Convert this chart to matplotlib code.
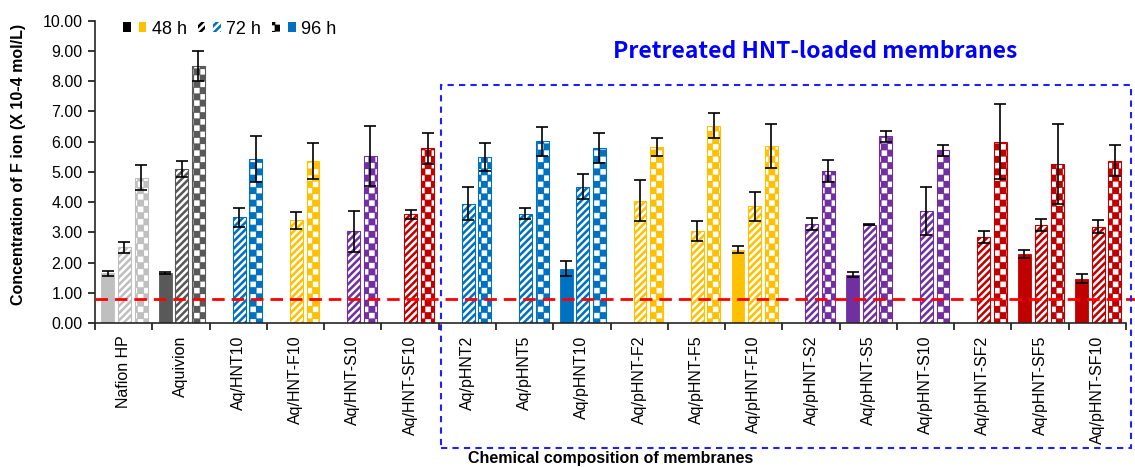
import numpy as np
import matplotlib
matplotlib.use('Agg')
import matplotlib.pyplot as plt
import matplotlib.patches as mpatches
from matplotlib import hatch as mhatch
from matplotlib.path import Path
from matplotlib.legend_handler import HandlerTuple

# fluoride release data (x 10^-4 mol/L)
membranes = ['Nafion HP', 'Aquivion', 'Aq/HNT10', 'Aq/HNT-F10', 'Aq/HNT-S10', 'Aq/HNT-SF10',
             'Aq/pHNT2', 'Aq/pHNT5', 'Aq/pHNT10', 'Aq/pHNT-F2', 'Aq/pHNT-F5', 'Aq/pHNT-F10',
             'Aq/pHNT-S2', 'Aq/pHNT-S5', 'Aq/pHNT-S10', 'Aq/pHNT-SF2', 'Aq/pHNT-SF5', 'Aq/pHNT-SF10']
nan = np.nan
f48 = [1.64, 1.65, nan, nan, nan, nan, nan, nan, 1.80, nan, nan, 2.43, nan, 1.60, nan, nan, 2.28, 1.46]
e48 = [0.09, 0.02, nan, nan, nan, nan, nan, nan, 0.25, nan, nan, 0.13, nan, 0.07, nan, nan, 0.14, 0.15]
f72 = [2.50, 5.10, 3.50, 3.40, 3.04, 3.59, 3.95, 3.62, 4.51, 4.05, 3.05, 3.86, 3.26, 3.25, 3.71, 2.84, 3.25, 3.19]
e72 = [0.17, 0.26, 0.31, 0.28, 0.68, 0.14, 0.54, 0.17, 0.41, 0.67, 0.33, 0.47, 0.20, 0.02, 0.80, 0.19, 0.20, 0.23]
f96 = [4.81, 8.49, 5.42, 5.35, 5.53, 5.78, 5.49, 6.01, 5.78, 5.83, 6.52, 5.85, 5.03, 6.17, 5.72, 6.00, 5.26, 5.37]
e96 = [0.42, 0.50, 0.77, 0.59, 1.00, 0.52, 0.45, 0.47, 0.49, 0.30, 0.41, 0.72, 0.36, 0.17, 0.18, 1.24, 1.33, 0.51]
limit = 0.79

GRAY, DGRAY = '#bfbfbf', '#595959'
BLUE, YELLOW, PURPLE, RED = '#0070c0', '#ffc000', '#7030a0', '#c00000'
colours = [GRAY, DGRAY, BLUE, YELLOW, PURPLE, RED,
           BLUE, BLUE, BLUE, YELLOW, YELLOW, YELLOW,
           PURPLE, PURPLE, PURPLE, RED, RED, RED]


# excel-like pattern fills: wide diagonal stripes and a checkerboard
class Stripes(mhatch.HatchPatternBase):
    def __init__(self, hatch, density):
        self.per_unit = 14 * hatch.count('*')
        self.num_vertices = (2 * self.per_unit + 1) * 2 if self.per_unit else 0

    def set_vertices_and_codes(self, vertices, codes):
        c = np.linspace(-1, 1, 2 * self.per_unit + 1)
        vertices[0::2, 0] = c
        vertices[0::2, 1] = 0.0
        vertices[1::2, 0] = c + 1
        vertices[1::2, 1] = 1.0
        codes[0::2] = Path.MOVETO
        codes[1::2] = Path.LINETO


class Checker(mhatch.HatchPatternBase):
    filled = True

    def __init__(self, hatch, density):
        self.n = 16 * hatch.count('O')
        self.num_vertices = (self.n * self.n // 2) * 5 if self.n else 0

    def set_vertices_and_codes(self, vertices, codes):
        s = 1.0 / self.n
        m = 0.016
        sq = np.array([[m, m], [s - m, m], [s - m, s - m], [m, s - m], [m, m]])
        parts = [sq + [i * s, j * s] for i in range(self.n) for j in range(self.n)
                 if (i + j) % 2 == 0]
        vertices[:] = np.concatenate(parts)
        codes[:] = np.tile([Path.MOVETO, Path.LINETO, Path.LINETO, Path.LINETO,
                            Path.CLOSEPOLY], len(parts))


mhatch._hatch_types[:] = [t for t in mhatch._hatch_types
                          if t not in (mhatch.LargeCircles, mhatch.Stars)] + [Stripes, Checker]

plt.rcParams['font.family'] = ['Liberation Sans', 'DejaVu Sans']
plt.rcParams['hatch.linewidth'] = 1.8

fig = plt.figure(figsize=(11.35, 4.67), dpi=100)
ax = fig.add_axes([0.0837, 0.3084, 0.9084, 0.6473])

x = np.arange(len(membranes))
w = 0.225
step = 0.29
shift = 0.015
series = [(f48, e48, None), (f72, e72, '*'), (f96, e96, 'O')]
for k, (vals, errs, pat) in enumerate(series):
    pos = x + shift + (k - 1) * step
    if pat is None:
        ax.bar(pos, vals, w, color=colours, edgecolor=colours, linewidth=0.6, zorder=2)
    else:
        ax.bar(pos, vals, w, color=colours, edgecolor='white', linewidth=0, hatch=pat, zorder=2)
        ax.bar(pos, vals, w, fill=False, edgecolor=colours, linewidth=0.8, zorder=2)
    ax.errorbar(pos, vals, yerr=errs, fmt='none', ecolor='black', elinewidth=1.2,
                capsize=4, capthick=1.2, zorder=3)

ax.axhline(limit, xmin=0, xmax=1.009, color='#ff0000', linewidth=2.0,
           dashes=(4.5, 2.5), zorder=4, clip_on=False)

ax.set_xlim(-0.5, len(membranes) - 0.5)
ax.set_ylim(0, 10)
ax.set_yticks(np.arange(0, 11, 1))
ax.set_yticklabels(['%.2f' % v for v in np.arange(0, 11, 1)], fontsize=11.5)
ax.set_xticks(x)
ax.set_xticklabels(membranes, rotation=90, fontsize=11.5)
ax.set_xticks(np.arange(-0.5, len(membranes), 1), minor=True)
ax.tick_params(axis='x', which='major', length=0, pad=9)
ax.tick_params(axis='x', which='minor', length=5, width=1.1, direction='out')
ax.tick_params(axis='y', length=5, width=1.1, direction='out', pad=4)
for side in ['top', 'right']:
    ax.spines[side].set_visible(False)
for side in ['left', 'bottom']:
    ax.spines[side].set_linewidth(1.2)
    ax.spines[side].set_color('#262626')

fig.text(0.016, 0.647, 'Concentration of F ion (X 10-4 mol/L)', rotation=90,
         ha='center', va='center', fontsize=11.5, fontweight='bold')
fig.text(0.538, 0.002, 'Chemical composition of membranes', ha='center', va='bottom',
         fontsize=11.5, fontweight='bold')
fig.text(0.7185, 0.889, 'Pretreated HNT-loaded membranes', ha='center', va='center',
         fontsize=16.5, fontweight='bold', color='#0000ff',
         family=['Noto Sans CJK KR', 'DejaVu Sans'])

# dashed frame around the pretreated group
fig.add_artist(mpatches.Rectangle((0.3885, 0.040), 0.608, 0.778, transform=fig.transFigure,
                                  fill=False, edgecolor='#1f1fff', linewidth=1.5,
                                  linestyle=(0, (3, 2.5))))

# the odd excel legend
h48 = (mpatches.Patch(facecolor='black'), mpatches.Patch(facecolor=YELLOW))
h72 = (mpatches.Patch(facecolor='black', edgecolor='white', hatch='*', linewidth=0),
       mpatches.Patch(facecolor=BLUE, edgecolor='white', hatch='*', linewidth=0))
h96 = (mpatches.Patch(facecolor='black', edgecolor='white', hatch='O', linewidth=0),
       mpatches.Patch(facecolor=BLUE))
ax.legend([h48, h72, h96], ['48 h', '72 h', '96 h'], ncol=3, frameon=False,
          loc='center left', bbox_to_anchor=(0.027, 0.9725), borderpad=0, borderaxespad=0,
          handler_map={tuple: HandlerTuple(ndivide=None, pad=0.45)},
          handlelength=1.3, handleheight=0.45, handletextpad=0.3, columnspacing=0.6,
          prop={'size': 13})

fig.savefig('out.png', dpi=100)
